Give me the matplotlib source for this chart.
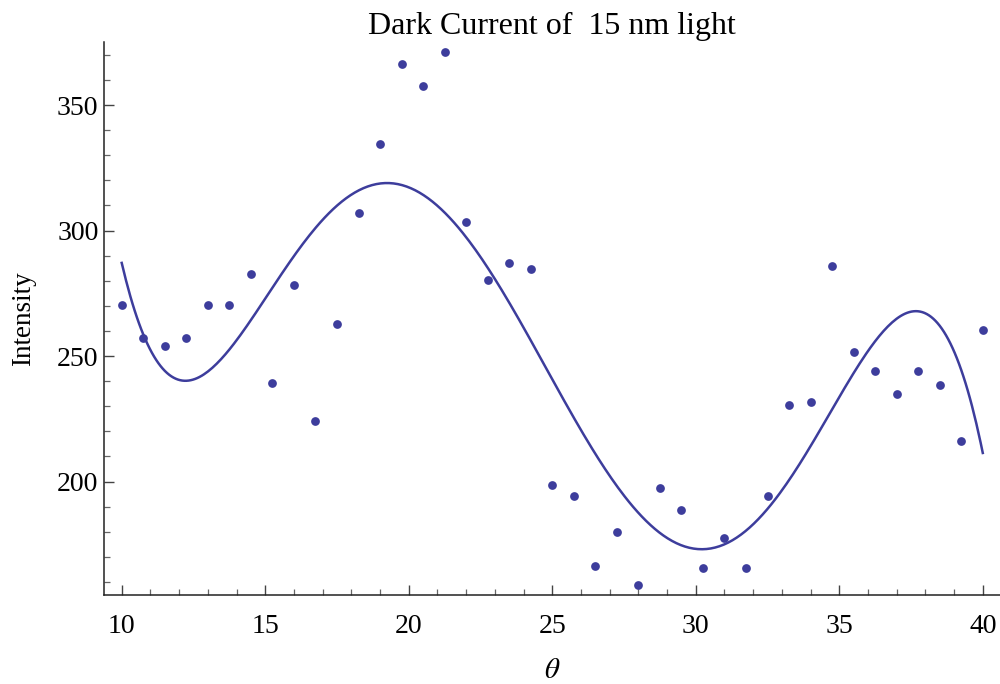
import numpy as np
import matplotlib
matplotlib.use("Agg")
import matplotlib.pyplot as plt
from matplotlib.ticker import MultipleLocator

theta = [10.0, 10.75, 11.5, 12.25, 13.0, 13.75, 14.5, 15.25, 16.0, 16.75,
         17.5, 18.25, 19.0, 19.75, 20.5, 21.25, 22.0, 22.75, 23.5, 24.25,
         25.0, 25.75, 26.5, 27.25, 28.0, 28.75, 29.5, 30.25, 31.0, 31.75,
         32.5, 33.25, 34.0, 34.75, 35.5, 36.25, 37.0, 37.75, 38.5, 39.25, 40.0]
intensity = [270.3, 257.0, 253.9, 257.0, 270.3, 270.3, 282.5, 239.4, 278.2, 224.0,
             262.6, 306.9, 334.3, 366.5, 357.7, 371.0, 303.5, 280.4, 286.9, 284.8,
             198.6, 194.1, 166.5, 179.8, 158.8, 197.4, 188.6, 165.4, 177.5, 165.4,
             194.1, 230.6, 231.7, 285.9, 251.6, 243.9, 235.0, 243.9, 238.3, 216.3, 260.5]
x_ticks = [10, 15, 20, 25, 30, 35, 40]
y_ticks = [200, 250, 300, 350]

color = "#3d3d9c"
plt.rcParams['font.family'] = ['Liberation Serif', 'DejaVu Serif']
plt.rcParams['mathtext.fontset'] = 'stix'

fig = plt.figure(figsize=(10, 6.84), dpi=100)
ax = fig.add_axes([0.104, 0.130, 0.896, 0.8086])

x = np.array(theta)
y = np.array(intensity)
coef = np.polyfit(x, y, 5)
xf = np.linspace(x.min(), x.max(), 400)
ax.plot(xf, np.polyval(coef, xf), color=color, lw=1.8, zorder=2)
ax.plot(x, y, 'o', color=color, ms=6.3, mec='none', zorder=3)

ax.set_xlim(9.383, 40.6)
ax.set_ylim(154.8, 375.1)
ax.set_xticks(x_ticks)
ax.set_yticks(y_ticks)
ax.xaxis.set_minor_locator(MultipleLocator(1))
ax.yaxis.set_minor_locator(MultipleLocator(10))
for s in ['top', 'right']:
    ax.spines[s].set_visible(False)
for s in ['left', 'bottom']:
    ax.spines[s].set_linewidth(1.1)
    ax.spines[s].set_color('#222222')
ax.tick_params(which='major', direction='in', length=7.2, width=1.0, color='#444444',
               labelsize=20)
ax.tick_params(which='minor', direction='in', length=4.3, width=0.9, color='#666666')
ax.tick_params(axis='x', which='major', pad=13.5)
ax.tick_params(axis='y', which='major', pad=4)
ax.set_title("Dark Current of  15 nm light", fontsize=23, pad=6)
ax.set_ylabel("Intensity", fontsize=19.5)
ax.yaxis.set_label_coords(-0.076, 0.5)
ax.set_xlabel(r"$\theta$", fontsize=21, labelpad=14)
fig.savefig("out.png", dpi=100)
